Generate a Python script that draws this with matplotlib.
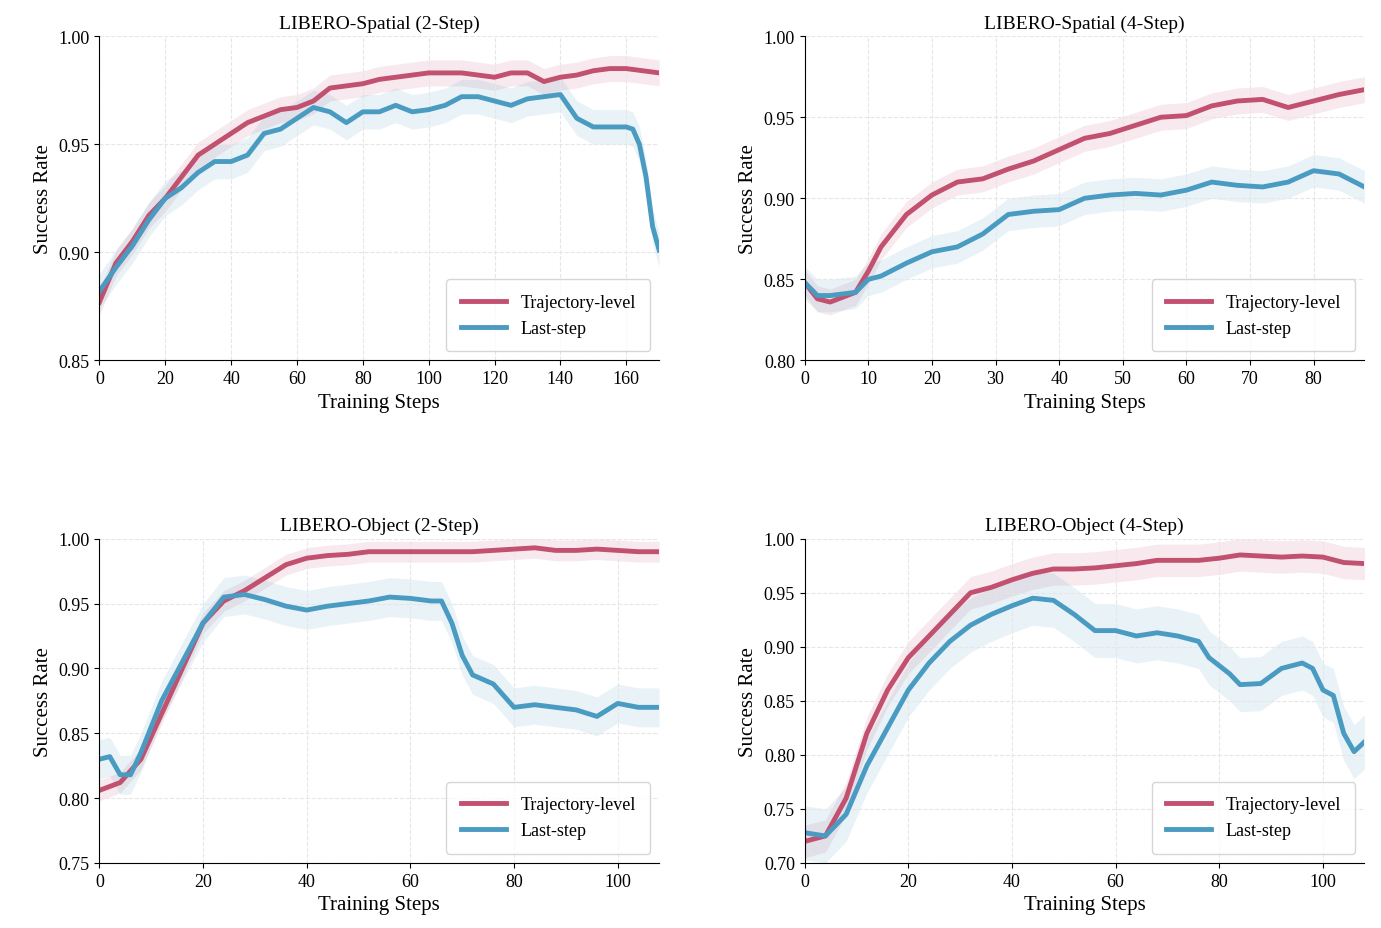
import matplotlib.pyplot as plt

plt.rcParams['font.family'] = ['Liberation Serif', 'DejaVu Serif']
plt.rcParams['font.size'] = 13

RED = "#c2506f"
BLUE = "#4a9bc2"

# --- LIBERO-Spatial (2-Step)
sp2_traj_x = [0, 5, 10, 15, 20, 25, 30, 35, 40, 45, 50, 55, 60, 65, 70, 75, 80, 85, 90, 95, 100,
              105, 110, 115, 120, 125, 130, 135, 140, 145, 150, 155, 160, 165, 170]
sp2_traj_y = [0.877, 0.895, 0.905, 0.917, 0.925, 0.935, 0.945, 0.950, 0.955, 0.960, 0.963, 0.966,
              0.967, 0.970, 0.976, 0.977, 0.978, 0.980, 0.981, 0.982, 0.983, 0.983, 0.983, 0.982,
              0.981, 0.983, 0.983, 0.979, 0.981, 0.982, 0.984, 0.985, 0.985, 0.984, 0.983]
sp2_last_x = [0, 5, 10, 15, 20, 25, 30, 35, 40, 45, 50, 55, 60, 65, 70, 75, 80, 85, 90, 95, 100,
              105, 110, 115, 120, 125, 130, 135, 140, 145, 150, 155, 160, 162, 164, 166, 168, 170]
sp2_last_y = [0.882, 0.893, 0.903, 0.915, 0.925, 0.930, 0.937, 0.942, 0.942, 0.945, 0.955, 0.957,
              0.962, 0.967, 0.965, 0.960, 0.965, 0.965, 0.968, 0.965, 0.966, 0.968, 0.972, 0.972,
              0.970, 0.968, 0.971, 0.972, 0.973, 0.962, 0.958, 0.958, 0.958, 0.957, 0.950, 0.935,
              0.912, 0.901]

# --- LIBERO-Spatial (4-Step)
sp4_x = [0, 2, 4, 8, 10, 12, 16, 20, 24, 28, 32, 36, 40, 44, 48, 52, 56, 60, 64, 68, 72, 76, 80, 84, 88]
sp4_traj_y = [0.848, 0.838, 0.836, 0.842, 0.855, 0.870, 0.890, 0.902, 0.910, 0.912, 0.918, 0.923,
              0.930, 0.937, 0.940, 0.945, 0.950, 0.951, 0.957, 0.960, 0.961, 0.956, 0.960, 0.964, 0.967]
sp4_last_y = [0.848, 0.840, 0.840, 0.842, 0.850, 0.852, 0.860, 0.867, 0.870, 0.878, 0.890, 0.892,
              0.893, 0.900, 0.902, 0.903, 0.902, 0.905, 0.910, 0.908, 0.907, 0.910, 0.917, 0.915, 0.907]

# --- LIBERO-Object (2-Step)
ob2_traj_x = [0, 4, 8, 12, 16, 20, 24, 28, 32, 36, 40, 44, 48, 52, 56, 60, 64, 68, 72, 76, 80,
              84, 88, 92, 96, 100, 104, 108]
ob2_traj_y = [0.806, 0.812, 0.830, 0.865, 0.900, 0.935, 0.952, 0.960, 0.970, 0.980, 0.985, 0.987,
              0.988, 0.990, 0.990, 0.990, 0.990, 0.990, 0.990, 0.991, 0.992, 0.993, 0.991, 0.991,
              0.992, 0.991, 0.990, 0.990]
ob2_last_x = [0, 2, 4, 6, 8, 12, 16, 20, 24, 28, 32, 36, 40, 44, 48, 52, 56, 60, 64, 66, 68, 70,
              72, 76, 80, 84, 88, 92, 96, 100, 104, 108]
ob2_last_y = [0.830, 0.832, 0.818, 0.818, 0.835, 0.875, 0.905, 0.935, 0.955, 0.957, 0.953, 0.948,
              0.945, 0.948, 0.950, 0.952, 0.955, 0.954, 0.952, 0.952, 0.935, 0.910, 0.895, 0.888,
              0.870, 0.872, 0.870, 0.868, 0.863, 0.873, 0.870, 0.870]

# --- LIBERO-Object (4-Step)
ob4_traj_x = ob2_traj_x
ob4_traj_y = [0.720, 0.725, 0.760, 0.820, 0.860, 0.890, 0.910, 0.930, 0.950, 0.955, 0.962, 0.968,
              0.972, 0.972, 0.973, 0.975, 0.977, 0.980, 0.980, 0.980, 0.982, 0.985, 0.984, 0.983,
              0.984, 0.983, 0.978, 0.977]
ob4_last_x = [0, 4, 8, 12, 16, 20, 24, 28, 32, 36, 40, 44, 48, 52, 56, 60, 64, 68, 72, 76, 78,
              82, 84, 88, 92, 96, 98, 100, 102, 104, 106, 108]
ob4_last_y = [0.728, 0.725, 0.745, 0.790, 0.825, 0.860, 0.885, 0.905, 0.920, 0.930, 0.938, 0.945,
              0.943, 0.930, 0.915, 0.915, 0.910, 0.913, 0.910, 0.905, 0.890, 0.875, 0.865, 0.866,
              0.880, 0.885, 0.880, 0.860, 0.855, 0.820, 0.803, 0.812]

panels = [
    ("LIBERO-Spatial (2-Step)", sp2_traj_x, sp2_traj_y, sp2_last_x, sp2_last_y, 170, (0.85, 1.0), 0.05, 0.006, 0.008),
    ("LIBERO-Spatial (4-Step)", sp4_x, sp4_traj_y, sp4_x, sp4_last_y, 88, (0.80, 1.0), 0.05, 0.008, 0.010),
    ("LIBERO-Object (2-Step)", ob2_traj_x, ob2_traj_y, ob2_last_x, ob2_last_y, 108, (0.75, 1.0), 0.05, 0.008, 0.015),
    ("LIBERO-Object (4-Step)", ob4_traj_x, ob4_traj_y, ob4_last_x, ob4_last_y, 108, (0.70, 1.0), 0.05, 0.015, 0.025),
]

fig, axes = plt.subplots(2, 2, figsize=(13.81, 9.29), dpi=100)
for ax, (title, tx, ty, lx, ly, xmax, ylim, ystep, tband, lband) in zip(axes.flat, panels):
    ax.fill_between(tx, [v - tband for v in ty], [v + tband for v in ty], color=RED, alpha=0.12, lw=0)
    ax.fill_between(lx, [v - lband for v in ly], [v + lband for v in ly], color=BLUE, alpha=0.12, lw=0)
    ax.plot(tx, ty, color=RED, lw=3.5, label="Trajectory-level")
    ax.plot(lx, ly, color=BLUE, lw=3.5, label="Last-step")
    ax.set_xlim(0, xmax)
    ax.set_ylim(*ylim)
    ax.set_yticks([round(ylim[0] + i * ystep, 2) for i in range(int(round((ylim[1] - ylim[0]) / ystep)) + 1)])
    ax.yaxis.set_major_formatter(plt.FormatStrFormatter('%.2f'))
    ax.set_title(title, fontsize=14)
    ax.set_xlabel("Training Steps", fontsize=15)
    ax.set_ylabel("Success Rate", fontsize=15)
    ax.grid(True, ls="--", color="#e6e6e6", lw=0.8)
    ax.spines["top"].set_visible(False)
    ax.spines["right"].set_visible(False)
    ax.legend(loc="lower right", fontsize=13, borderpad=0.8, handlelength=2.5)

fig.subplots_adjust(left=0.072, right=0.988, top=0.96, bottom=0.07, hspace=0.55, wspace=0.26)
fig.savefig("out.png")
